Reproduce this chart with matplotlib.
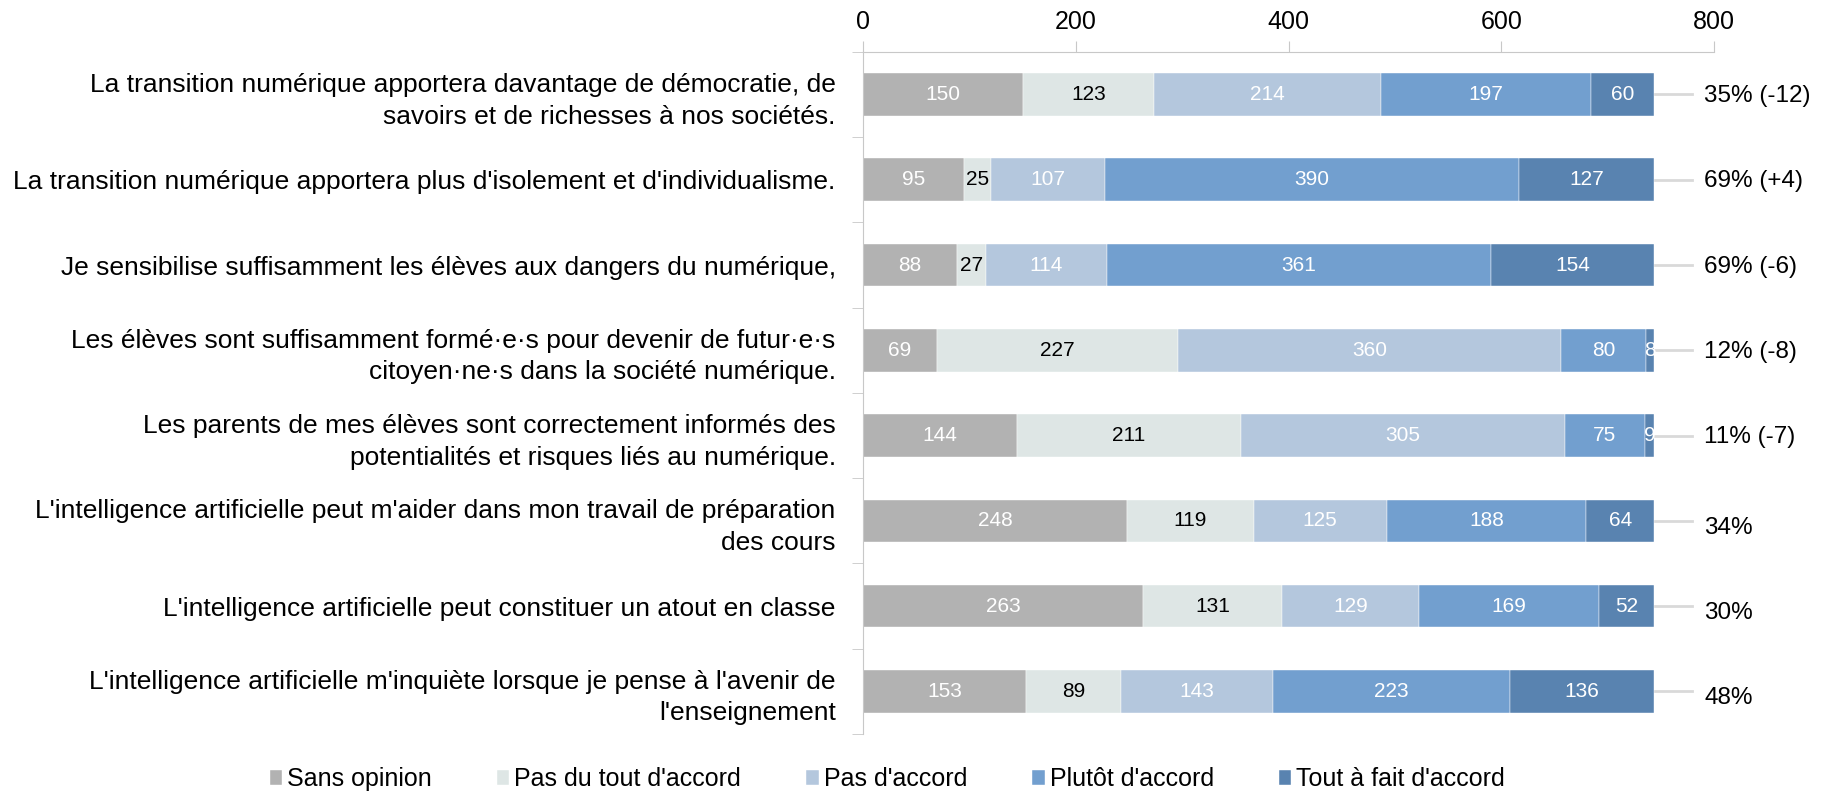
import matplotlib.pyplot as plt
import numpy as np

plt.rcParams['font.family'] = ['Liberation Sans', 'DejaVu Sans']

questions = [
    "La transition numérique apportera davantage de démocratie, de\nsavoirs et de richesses à nos sociétés.",
    "La transition numérique apportera plus d'isolement et d'individualisme.",
    "Je sensibilise suffisamment les élèves aux dangers du numérique,",
    "Les élèves sont suffisamment formé·e·s pour devenir de futur·e·s\ncitoyen·ne·s dans la société numérique.",
    "Les parents de mes élèves sont correctement informés des\npotentialités et risques liés au numérique.",
    "L'intelligence artificielle peut m'aider dans mon travail de préparation\ndes cours",
    "L'intelligence artificielle peut constituer un atout en classe",
    "L'intelligence artificielle m'inquiète lorsque je pense à l'avenir de\nl'enseignement",
]
categories = ["Sans opinion", "Pas du tout d'accord", "Pas d'accord",
              "Plutôt d'accord", "Tout à fait d'accord"]
sans_opinion = [150, 95, 88, 69, 144, 248, 263, 153]
pas_du_tout = [123, 25, 27, 227, 211, 119, 131, 89]
pas_accord = [214, 107, 114, 360, 305, 125, 129, 143]
plutot = [197, 390, 361, 80, 75, 188, 169, 223]
tout_a_fait = [60, 127, 154, 8, 9, 64, 52, 136]
right_labels = ["35% (-12)", "69% (+4)", "69% (-6)", "12% (-8)",
                "11% (-7)", "34%", "30%", "48%"]

colors = ['#b2b2b2', '#dee6e5', '#b4c7dd', '#729fcf', '#5983b0']
text_colors = ['white', 'black', 'white', 'white', 'white']

series = [sans_opinion, pas_du_tout, pas_accord, plutot, tout_a_fait]

fig = plt.figure(figsize=(18.41, 7.97), dpi=100)
ax = fig.add_axes([0.469, 0.079, 0.462, 0.856])

y = np.arange(len(questions))
left = np.zeros(len(questions))
for vals, name, col, tc in zip(series, categories, colors, text_colors):
    vals = np.array(vals, dtype=float)
    ax.barh(y, vals, left=left, height=0.5, color=col, label=name,
            edgecolor='white', linewidth=0.3)
    for yi, (l, v) in enumerate(zip(left, vals)):
        ax.text(l + v / 2, yi, f"{int(v)}", ha='center', va='center',
                color=tc, fontsize=15)
    left += vals

for yi, (tot, lab) in enumerate(zip(left, right_labels)):
    ax.plot([tot, 779], [yi, yi], color='#d9d9d9', lw=2, clip_on=False,
            zorder=0)
    ax.text(791, yi + (0.08 if '(' not in lab else 0.02), lab, ha='left',
            va='center', fontsize=17.5, clip_on=False)

ax.set_xlim(0, 800)
ax.set_ylim(len(questions) - 0.5, -0.5)
ax.set_xticks([0, 200, 400, 600, 800])
ax.xaxis.tick_top()
ax.tick_params(axis='x', labelsize=18, length=8, color='#c8c8c8', pad=5)
ax.set_yticks(y)
ax.set_yticklabels(questions, fontsize=19, ha='right', linespacing=1.4)
ax.tick_params(axis='y', length=0, pad=20)
ax.set_yticks(np.arange(len(questions) + 1) - 0.5, minor=True)
ax.tick_params(axis='y', which='minor', length=8, color='#c8c8c8')

for s in ['right', 'bottom']:
    ax.spines[s].set_visible(False)
for s in ['top', 'left']:
    ax.spines[s].set_color('#c8c8c8')

fig.legend(loc='center', bbox_to_anchor=(0.482, 0.022), ncol=5, frameon=False,
           fontsize=18, handlelength=0.5, handleheight=0.5,
           handletextpad=0.2, columnspacing=2.6)

fig.savefig('out.png', dpi=100)
